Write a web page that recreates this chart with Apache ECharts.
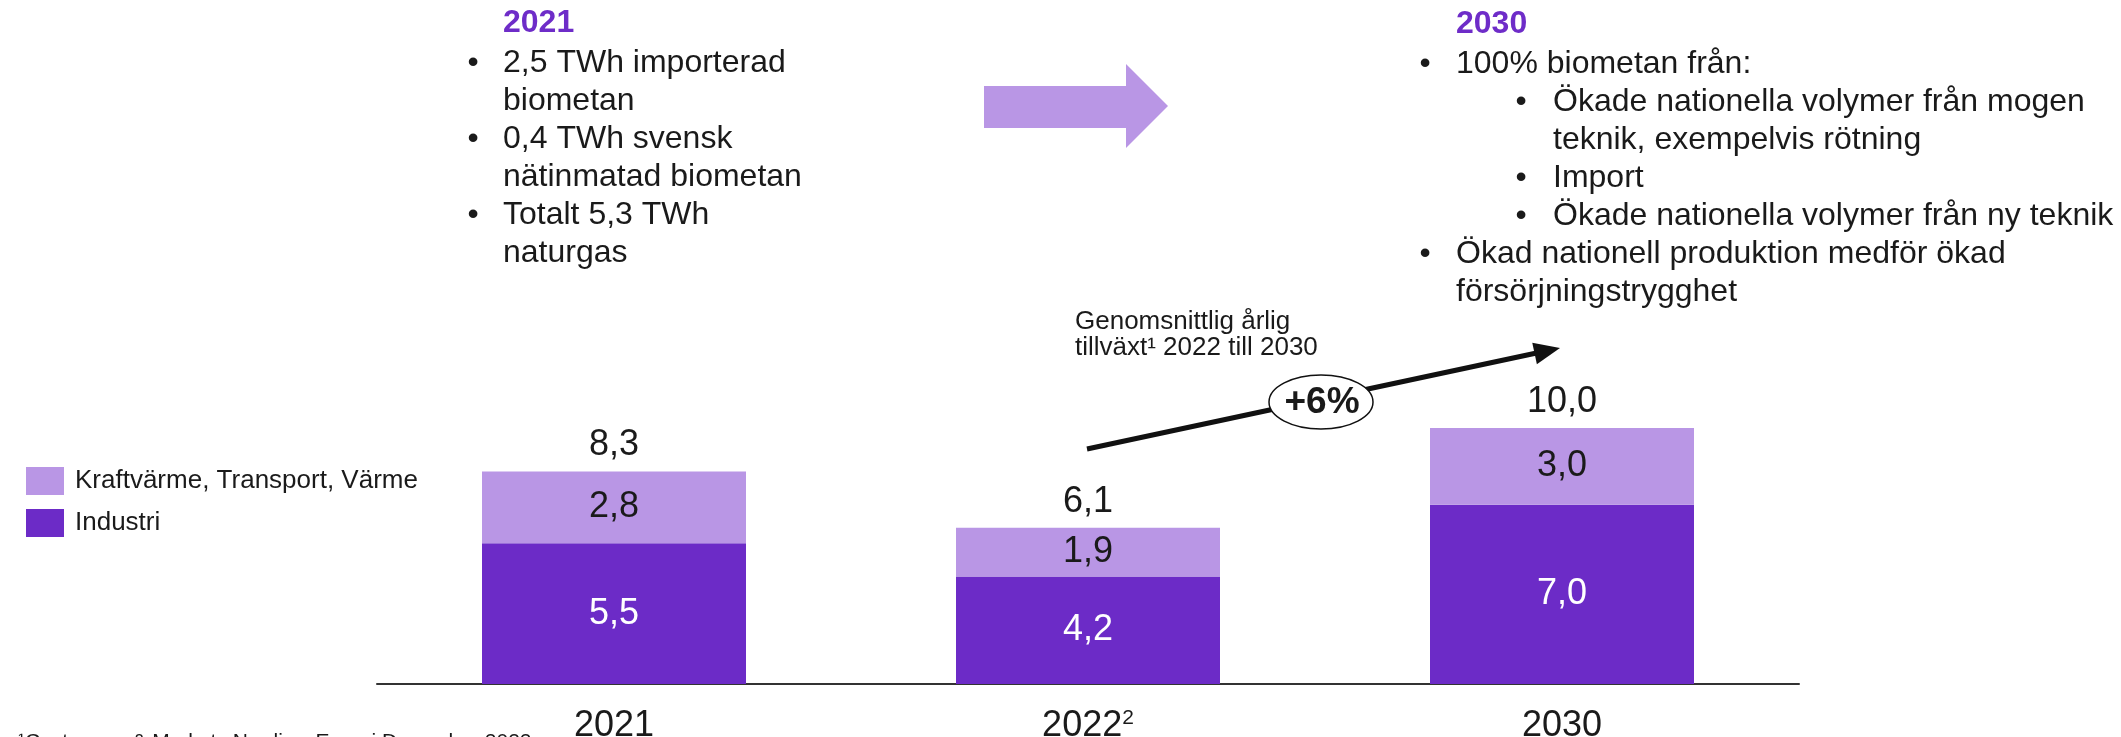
<!DOCTYPE html>
<html>
<head>
<meta charset="utf-8">
<script src="https://cdn.jsdelivr.net/npm/echarts@6/dist/echarts.min.js"></script>
<style>
html,body{margin:0;padding:0;background:#fff;}
#chart{width:2121px;height:737px;}
</style>
</head>
<body>
<div id="chart"></div>
<script>
// ---- data ----
const categories = ['2021', '2022', '2030'];
const categorySup = ['', '2', ''];
const industri = [5.5, 4.2, 7.0];
const kraftvarme = [2.8, 1.9, 3.0];
const totals = [8.3, 6.1, 10.0];
const seriesNames = ['Industri', 'Kraftvärme, Transport, Värme'];

const leftTitle = '2021';
const leftBullets = [
  ['2,5 TWh importerad', 'biometan'],
  ['0,4 TWh svensk', 'nätinmatad biometan'],
  ['Totalt 5,3 TWh', 'naturgas']
];
const rightTitle = '2030';
const rightItems = [
  {level: 1, lines: ['100% biometan från:']},
  {level: 2, lines: ['Ökade nationella volymer från mogen', 'teknik, exempelvis rötning']},
  {level: 2, lines: ['Import']},
  {level: 2, lines: ['Ökade nationella volymer från ny teknik']},
  {level: 1, lines: ['Ökad nationell produktion medför ökad', 'försörjningstrygghet']}
];
const growthText = ['Genomsnittlig årlig', 'tillväxt¹ 2022 till 2030'];
const growthValue = '+6%';
const footnote = '¹Customers & Markets Nordics, Energi December 2022';

// ---- styles ----
const FONT = '"Liberation Sans", Arial, sans-serif';
const DARK = '#6C2BC7';
const LIGHT = '#B996E5';
const TXT = '#1a1a1a';
const TITLE = '#6E2CC8';
const fmt = v => (typeof v === 'object' ? v.value : v).toFixed(1).replace('.', ',');

const chart = echarts.init(document.getElementById('chart'), null, {renderer: 'canvas'});

// text blocks
const graphics = [];
function txt(x, y, text, size, opts) {
  opts = opts || {};
  graphics.push({
    type: 'text', x: x, y: y, z: opts.z || 5,
    style: {
      text: text, fill: opts.fill || TXT,
      font: (opts.bold ? 'bold ' : '') + size + 'px ' + FONT,
      align: opts.align || 'left', verticalAlign: opts.va || 'middle'
    }
  });
}
const LH = 38.1;
// left block
txt(503, 23, leftTitle, 32, {bold: true, fill: TITLE});
let ly = 63;
leftBullets.forEach(item => {
  txt(473, ly, '•', 32, {align: 'center'});
  item.forEach(line => { txt(503, ly, line, 32); ly += LH; });
});
// right block
txt(1456, 24, rightTitle, 32, {bold: true, fill: TITLE});
let ry = 64;
rightItems.forEach(item => {
  const bx = item.level === 1 ? 1425 : 1521;
  const tx = item.level === 1 ? 1456 : 1553;
  txt(bx, ry, '•', 32, {align: 'center'});
  item.lines.forEach(line => { txt(tx, ry, line, 32); ry += LH; });
});
// growth annotation
txt(1075, 322, growthText[0], 26);
txt(1075, 348, growthText[1], 26);
// footnote
txt(18, 732, footnote, 21, {va: 'top'});

// big purple arrow
graphics.push({
  type: 'polygon', z: 1,
  shape: {points: [[984, 86], [1126, 86], [1126, 64], [1168, 106], [1126, 148], [1126, 128], [984, 128]]},
  style: {fill: LIGHT}
});
// trend arrow
const sx = 1087, sy = 449, tipx = 1560, tipy = 348;
const dx = tipx - sx, dy = tipy - sy, len = Math.hypot(dx, dy);
const ux = dx / len, uy = dy / len, nx = -uy, ny = ux;
const bxh = tipx - 26 * ux, byh = tipy - 26 * uy;
graphics.push({
  type: 'line', z: 6,
  shape: {x1: sx, y1: sy, x2: bxh + ux * 2, y2: byh + uy * 2},
  style: {stroke: '#111', lineWidth: 5}
});
graphics.push({
  type: 'polygon', z: 6,
  shape: {points: [[tipx, tipy], [bxh + 11 * nx, byh + 11 * ny], [bxh - 11 * nx, byh - 11 * ny]]},
  style: {fill: '#111'}
});
graphics.push({
  type: 'ellipse', z: 7,
  shape: {cx: 1321, cy: 402, rx: 52, ry: 27},
  style: {fill: '#fff', stroke: '#111', lineWidth: 1.5}
});
txt(1322, 403, growthValue, 37, {bold: true, align: 'center', z: 8});

const option = {
  backgroundColor: '#fff',
  animation: false,
  textStyle: {fontFamily: FONT},
  grid: {left: 377, right: 322, top: 428, bottom: 53, containLabel: false, outerBoundsMode: 'none'},
  legend: {
    orient: 'vertical', left: 26, top: 467, padding: 0,
    itemWidth: 38, itemHeight: 28, itemGap: 14, icon: 'rect',
    data: [seriesNames[1], seriesNames[0]],
    textStyle: {fontSize: 26, color: TXT, fontFamily: FONT, padding: [0, 0, 0, 6]}
  },
  xAxis: {
    type: 'category', data: categories,
    axisLine: {lineStyle: {color: '#333', width: 2}},
    axisTick: {show: false},
    axisLabel: {
      margin: 24, color: TXT, fontSize: 36, fontFamily: FONT,
      formatter: (v, i) => categorySup[i] ? '{a|' + v + '}{s|' + categorySup[i] + '}' : '{a|' + v + '}',
      rich: {
        a: {fontSize: 36, color: TXT, fontFamily: FONT},
        s: {fontSize: 21, color: TXT, fontFamily: FONT, verticalAlign: 'top'}
      }
    }
  },
  yAxis: {type: 'value', min: 0, max: 10, show: false, splitLine: {show: false}},
  series: [
    {
      name: seriesNames[0], type: 'bar', stack: 't', data: industri, barWidth: 264,
      itemStyle: {color: DARK},
      label: {show: true, position: 'inside', color: '#fff', fontSize: 36, fontFamily: FONT, formatter: p => fmt(p.value)}
    },
    {
      name: seriesNames[1], type: 'bar', stack: 't', data: kraftvarme, barWidth: 264,
      itemStyle: {color: LIGHT},
      label: {show: true, position: 'inside', color: TXT, fontSize: 36, fontFamily: FONT, formatter: p => fmt(p.value)}
    },
    {
      name: 'Totalt', type: 'scatter', data: totals, symbolSize: 0, z: 10,
      itemStyle: {opacity: 1},
      label: {show: true, position: 'top', distance: 8, color: TXT, opacity: 1, fontSize: 36, fontFamily: FONT, formatter: p => fmt(p.value)}
    }
  ],
  graphic: graphics
};
chart.setOption(option);
</script>
</body>
</html>
